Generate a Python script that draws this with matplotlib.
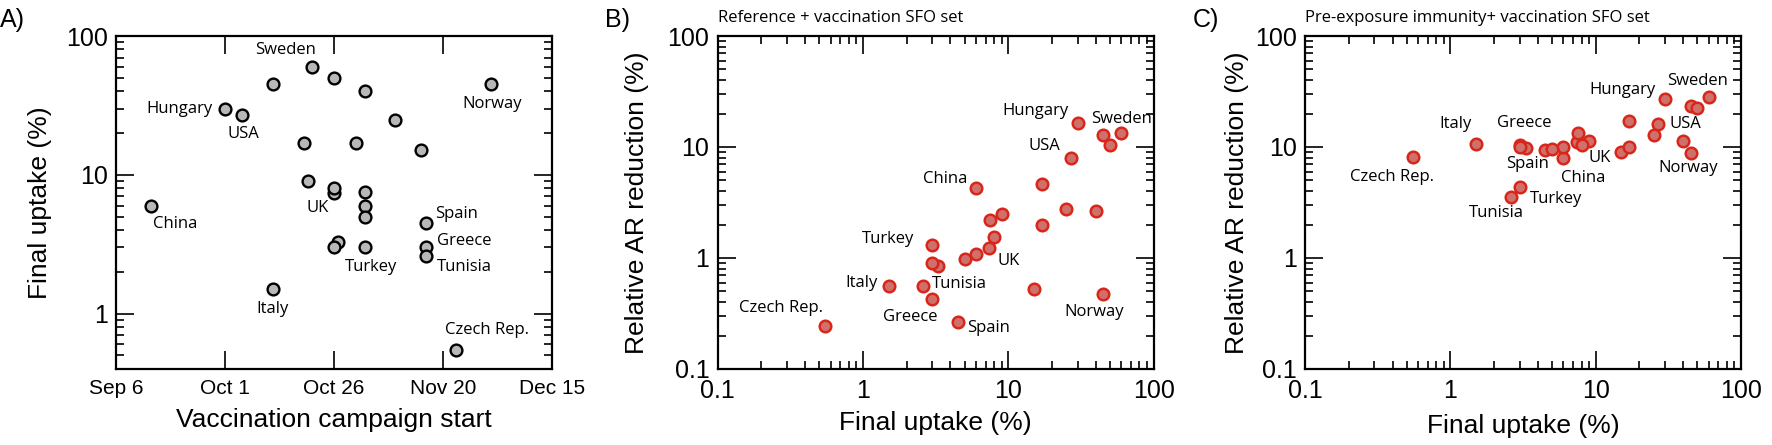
import matplotlib
matplotlib.use("Agg")
import matplotlib.pyplot as plt
import matplotlib.dates as mdates
from matplotlib.ticker import LogLocator, NullFormatter, FixedLocator, FixedFormatter
import numpy as np

# one entry per country; unnamed points carry no label
countries = ["China", "Hungary", "USA", "Italy", "Sweden", "Norway", "Czech Rep.",
             "Spain", "Greece", "Tunisia", "Turkey", "UK",
             "", "", "", "", "", "", "", "", "", "", "", "", "", ""]
campaign_start = ["2009-09-14", "2009-10-01", "2009-10-05", "2009-10-12", "2009-10-21",
                  "2009-12-01", "2009-11-23", "2009-11-16", "2009-11-16", "2009-11-16",
                  "2009-11-02", "2009-10-26",
                  "2009-10-12", "2009-10-26", "2009-11-02", "2009-11-09", "2009-11-15",
                  "2009-10-19", "2009-10-31", "2009-10-20", "2009-10-26", "2009-11-02",
                  "2009-11-02", "2009-11-02", "2009-10-27", "2009-10-26"]
final_uptake = [6.0, 30, 27, 1.5, 60, 45, 0.55, 4.5, 3.0, 2.6, 3.0, 7.4,
                45, 50, 40, 25, 15, 17, 17, 9.0, 8.0, 7.5, 6.0, 5.0, 3.3, 3.0]
ar_reduction_ref = [4.23, 16.3, 7.9, 0.56, 13.5, 0.47, 0.245, 0.267, 0.43, 0.56, 1.31, 1.24,
                    12.8, 10.4, 2.66, 2.75, 0.525, 4.6, 1.98, 2.47, 1.54, 2.21, 1.08, 0.98, 0.85, 0.90]
ar_reduction_pre = [7.9, 27.3, 16.2, 10.7, 28.5, 8.8, 8.1, 9.35, 10.45, 3.56, 4.38, 11.0,
                    23.3, 22.6, 11.3, 12.8, 9.04, 17.2, 10.0, 11.4, 10.45, 13.5, 9.96, 9.55, 9.75, 9.9]

date_ticks = ["2009-09-06", "2009-10-01", "2009-10-26", "2009-11-20", "2009-12-15"]
date_tick_labels = ["Sep 6", "Oct 1", "Oct 26", "Nov 20", "Dec 15"]
log_ticks = [0.1, 1, 10, 100]
log_tick_labels = ["0.1", "1", "10", "100"]

subtitle_b = "Reference + vaccination SFO set"
subtitle_c = "Pre-exposure immunity+ vaccination SFO set"

# label placement: (dx, dy) in points, horizontal alignment
labels_a = {"Sweden": (-19, 12, "center"), "Hungary": (-9, 0, "right"), "USA": (1, -14, "center"),
            "China": (1.5, -13, "left"), "Norway": (1, -14, "center"), "UK": (-12, -11, "center"),
            "Spain": (7, 6.5, "left"), "Greece": (8, 4.5, "left"), "Tunisia": (8, -8, "left"),
            "Turkey": (5, -14, "center"), "Italy": (0, -14, "center"), "Czech Rep.": (22, 14, "center")}
labels_b = {"Hungary": (-6.5, 9, "right"), "Sweden": (0, 9.5, "center"), "USA": (-8, 9, "right"),
            "China": (-6, 6.5, "right"), "Turkey": (-13, 4.5, "right"), "UK": (6, -9.5, "left"),
            "Italy": (-8, 2, "right"), "Tunisia": (6, 1.5, "left"), "Czech Rep.": (-1.5, 13, "right"),
            "Greece": (-16, -13, "center"), "Spain": (7, -4.5, "left"), "Norway": (-6.5, -13, "center")}
labels_c = {"Sweden": (-8, 11.5, "center"), "Hungary": (-7, 6.5, "right"), "USA": (8, 0, "left"),
            "Italy": (-15, 14.5, "center"), "Greece": (3, 16, "center"), "Spain": (-13, -10, "center"),
            "China": (14.5, -14.5, "center"), "UK": (16.5, -11, "center"), "Norway": (-2, -11, "center"),
            "Czech Rep.": (-15, -14, "center"), "Turkey": (7, -8.5, "left"), "Tunisia": (-10, -12, "center")}

SANS = "Liberation Sans"
LABEL_FONT = "Open Sans"
LABEL_SIZE = 12

plt.rcParams['font.family'] = [SANS, 'DejaVu Sans']


def style_axes(ax):
    for s in ax.spines.values():
        s.set_linewidth(1.6)
    ax.tick_params(which='both', direction='in', top=True, right=True, width=1.2)
    ax.tick_params(which='major', length=13, pad=7)
    ax.tick_params(which='minor', length=6)


def put_labels(ax, x, y, placement):
    for name, xi, yi in zip(countries, x, y):
        if name in placement:
            dx, dy, ha = placement[name]
            ax.annotate(name, (xi, yi), xytext=(dx, dy), textcoords='offset points',
                        ha=ha, va='center', fontsize=LABEL_SIZE, family=LABEL_FONT)


fig = plt.figure(figsize=(17.72, 4.45), dpi=100)

# A) uptake vs start date
start = mdates.datestr2num(campaign_start)
ax_a = fig.add_axes([0.0655, 0.171, 0.246, 0.748])
ax_a.scatter(start, final_uptake, s=72, facecolor='#b8b8b8', edgecolor='black', linewidths=1.7, zorder=3)
ax_a.set_yscale('log')
ax_a.set_xlim(mdates.datestr2num(date_ticks[0]), mdates.datestr2num(date_ticks[-1]))
ax_a.set_ylim(0.4, 100)
ax_a.xaxis.set_major_locator(FixedLocator(mdates.datestr2num(date_ticks)))
ax_a.xaxis.set_major_formatter(FixedFormatter(date_tick_labels))
ax_a.xaxis.set_minor_locator(FixedLocator([]))
ax_a.yaxis.set_major_locator(FixedLocator([1, 10, 100]))
ax_a.yaxis.set_major_formatter(FixedFormatter(["1", "10", "100"]))
ax_a.yaxis.set_minor_locator(LogLocator(base=10, subs=np.arange(2, 10)))
ax_a.yaxis.set_minor_formatter(NullFormatter())
style_axes(ax_a)
ax_a.tick_params(axis='x', labelsize=15)
ax_a.tick_params(axis='y', labelsize=18, pad=6)
ax_a.set_xlabel("Vaccination campaign start", fontsize=19)
ax_a.set_ylabel("Final uptake (%)", fontsize=19)
ax_a.xaxis.set_label_coords(0.5, -0.117)
ax_a.yaxis.set_label_coords(-0.147, 0.5)
put_labels(ax_a, start, final_uptake, labels_a)
fig.text(0.0, 0.955, "A)", fontsize=18, va='center', ha='left')

# B) and C) AR reduction vs uptake
panels = [(0.405, ar_reduction_ref, labels_b, subtitle_b, "B)", 605, -0.158, -0.126),
          (0.7365, ar_reduction_pre, labels_c, subtitle_c, "C)", 1193, -0.128, -0.135)]
for left, yvals, placement, subtitle, letter, letter_px, ylab_x, xlab_y in panels:
    ax = fig.add_axes([left, 0.171, 0.246, 0.748])
    ax.scatter(final_uptake, yvals, s=69, facecolor='#d0706b', edgecolor='#d9261b', linewidths=1.8, zorder=3)
    ax.set_xscale('log')
    ax.set_yscale('log')
    ax.set_xlim(0.1, 100)
    ax.set_ylim(0.1, 100)
    for axis in (ax.xaxis, ax.yaxis):
        axis.set_major_locator(FixedLocator(log_ticks))
        axis.set_major_formatter(FixedFormatter(log_tick_labels))
        axis.set_minor_locator(LogLocator(base=10, subs=np.arange(2, 10)))
        axis.set_minor_formatter(NullFormatter())
    style_axes(ax)
    ax.tick_params(axis='both', labelsize=18)
    ax.tick_params(axis='y', pad=6)
    ax.set_xlabel("Final uptake (%)", fontsize=19)
    ax.set_ylabel("Relative AR reduction (%)", fontsize=19)
    ax.xaxis.set_label_coords(0.5, xlab_y)
    ax.yaxis.set_label_coords(ylab_x, 0.5)
    put_labels(ax, final_uptake, yvals, placement)
    ax.text(0.0, 1.055, subtitle, transform=ax.transAxes, fontsize=LABEL_SIZE, family=LABEL_FONT,
            ha='left', va='center')
    fig.text(letter_px / 1772, 0.955, letter, fontsize=18, va='center', ha='left')

fig.savefig("out.png", dpi=100)
